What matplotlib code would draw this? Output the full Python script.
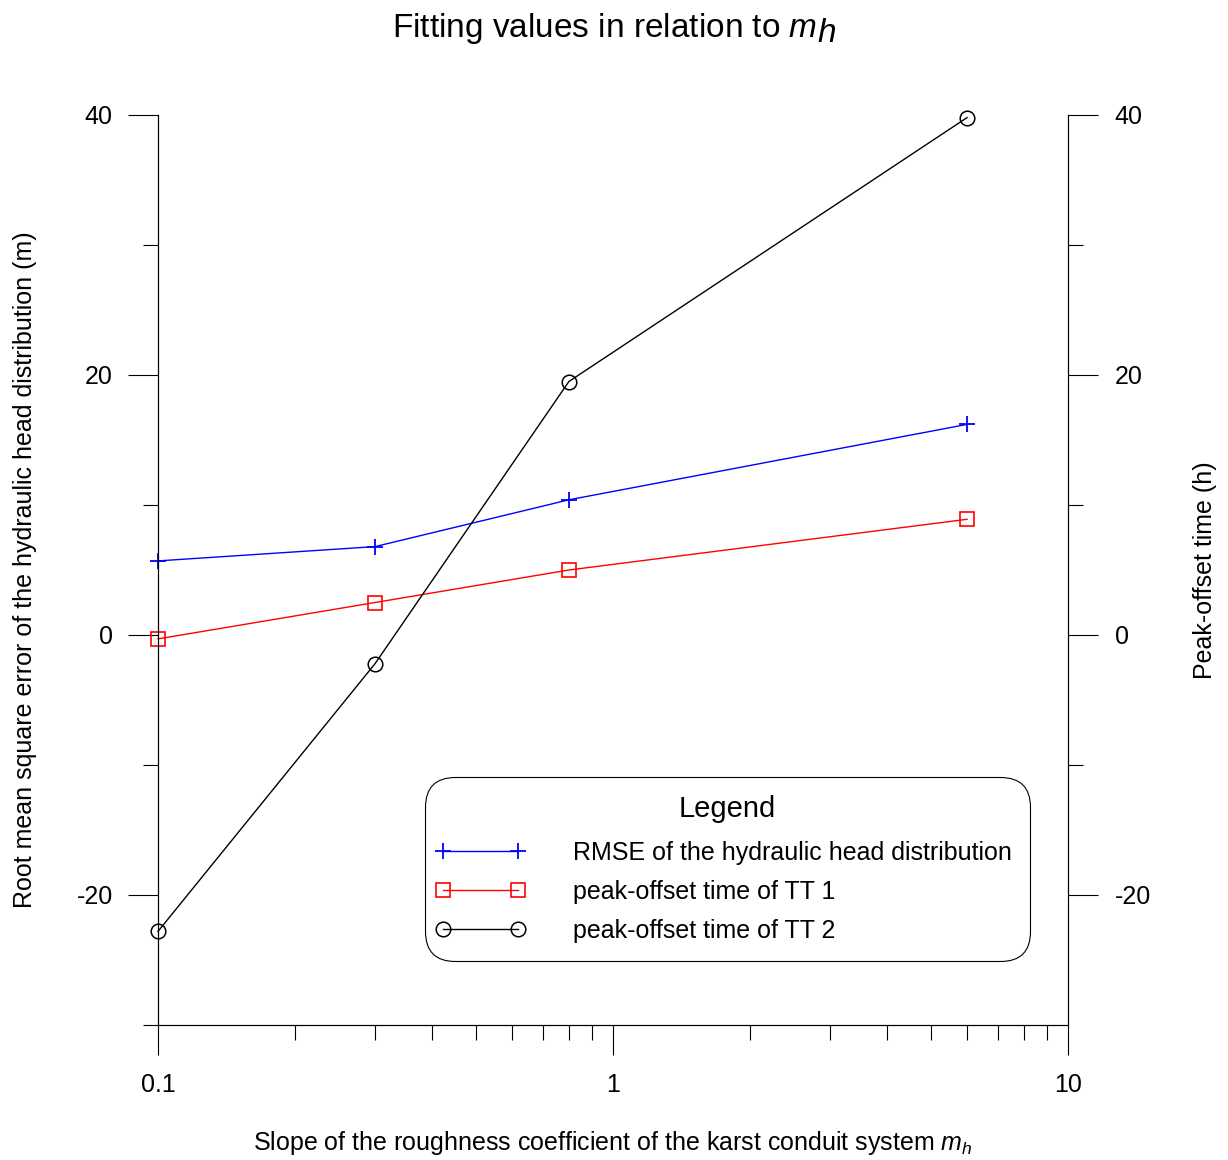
import numpy as np
import matplotlib
matplotlib.use("Agg")
import matplotlib.pyplot as plt
from matplotlib.ticker import FixedLocator, NullFormatter
from matplotlib.legend_handler import HandlerLine2D
from matplotlib.lines import Line2D

plt.rcParams['font.family'] = ['Liberation Sans', 'DejaVu Sans']
plt.rcParams['mathtext.fontset'] = 'custom'
plt.rcParams['mathtext.rm'] = 'Liberation Sans'
plt.rcParams['mathtext.it'] = 'Liberation Sans:italic'
plt.rcParams['axes.unicode_minus'] = False

# data
m_h = [0.1, 0.3, 0.8, 6.0]
rmse = [5.7, 6.8, 10.4, 16.2]
tt1 = [-0.3, 2.5, 5.0, 8.9]
tt2 = [-22.8, -2.2, 19.5, 39.8]

y_major = [-20, 0, 20, 40]
y_minor = [-30, -10, 10, 30]
x_major = [0.1, 1, 10]
x_labels = ["0.1", "1", "10"]

W, H = 1228, 1160
fig = plt.figure(figsize=(W / 100, H / 100), dpi=100)
ax = fig.add_axes([158/W, 135/H, 910/W, 910/H])

ax.plot(m_h, rmse, color='#0000ff', lw=1, marker='+', ms=11, mew=1.3,
        label='RMSE of the hydraulic head distribution', clip_on=False, zorder=3)
ax.plot(m_h, tt1, color='#ff0000', lw=1, marker='s', ms=10, mfc='none', mew=1.2,
        label='peak-offset time of TT 1', clip_on=False, zorder=3)
ax.plot(m_h, tt2, color='black', lw=1, marker='o', ms=10.5, mfc='none', mew=1.1,
        label='peak-offset time of TT 2', clip_on=False, zorder=3)

ax.set_xscale('log')
ax.set_xlim(0.1, 10)
ax.set_ylim(-30, 40)
ax.spines['top'].set_visible(False)
for s in ax.spines.values():
    s.set_linewidth(0.8)

ax.xaxis.set_major_locator(FixedLocator(x_major))
ax.set_xticklabels(x_labels)
ax.xaxis.set_minor_locator(FixedLocator([v * d for d in [0.1, 1] for v in range(2, 10)]))
ax.xaxis.set_minor_formatter(NullFormatter())
ax.yaxis.set_major_locator(FixedLocator(y_major))
ax.yaxis.set_minor_locator(FixedLocator(y_minor))

ax.tick_params(which='major', length=21.6, width=0.8, labelsize=18, pad=11)
ax.tick_params(which='minor', length=10.8, width=0.8)
ax.tick_params(axis='x', which='major', pad=13)

ax2 = ax.twinx()
ax2.set_ylim(-30, 40)
ax2.spines['top'].set_visible(False)
for s in ax2.spines.values():
    s.set_linewidth(0.8)
ax2.yaxis.set_major_locator(FixedLocator(y_major))
ax2.yaxis.set_minor_locator(FixedLocator([-10, 10, 30]))
ax2.tick_params(which='major', length=21.6, width=0.8, labelsize=18, pad=12)
ax2.tick_params(which='minor', length=10.8, width=0.8)

ax.set_ylabel('Root mean square error of the hydraulic head distribution (m)',
              fontsize=18, ha='center', va='center')
ax.yaxis.set_label_coords((25 - 158) / 910, 0.5)
ax2.set_ylabel('Peak-offset time (h)', fontsize=18, ha='center', va='center')
ax2.yaxis.set_label_coords((1205 - 158) / 910, 0.5)
ax.set_xlabel('Slope of the roughness coefficient of the karst conduit system $m_h$',
              fontsize=18, ha='center', va='center')
ax.xaxis.set_label_coords(0.5, (1025 - 1143) / 910)

# title: "h" of m_h sits at full size, slightly lowered
title_y = 1 - 28/H
t_main = fig.text(0, title_y, 'Fitting values in relation to $m$',
                  fontsize=24, ha='left', va='center')
t_h = fig.text(0, title_y - 5/H, 'h', fontsize=24, style='italic',
               ha='left', va='center')
fig.canvas.draw()
r = fig.canvas.get_renderer()
w_main = t_main.get_window_extent(r).width
w_h = t_h.get_window_extent(r).width
x0 = 614 - (w_main + w_h) / 2
t_main.set_x(x0 / W)
t_h.set_x((x0 + w_main) / W)

leg = ax.legend(loc='upper left', bbox_to_anchor=(425/W, 1 - 777/H),
                bbox_transform=fig.transFigure, title='Legend', title_fontsize=21,
                fontsize=18, numpoints=2, handlelength=3.0, handletextpad=2.2,
                labelspacing=0.6, borderpad=0.72, borderaxespad=0, fancybox=True,
                framealpha=1, edgecolor='black',
                handler_map={Line2D: HandlerLine2D(marker_pad=0)})
leg.get_frame().set_linewidth(0.8)
leg.get_frame().set_boxstyle('round', pad=0, rounding_size=1.2)
leg._legend_box.sep = 13
leg.set_zorder(5)

fig.savefig('out.png', dpi=100)
